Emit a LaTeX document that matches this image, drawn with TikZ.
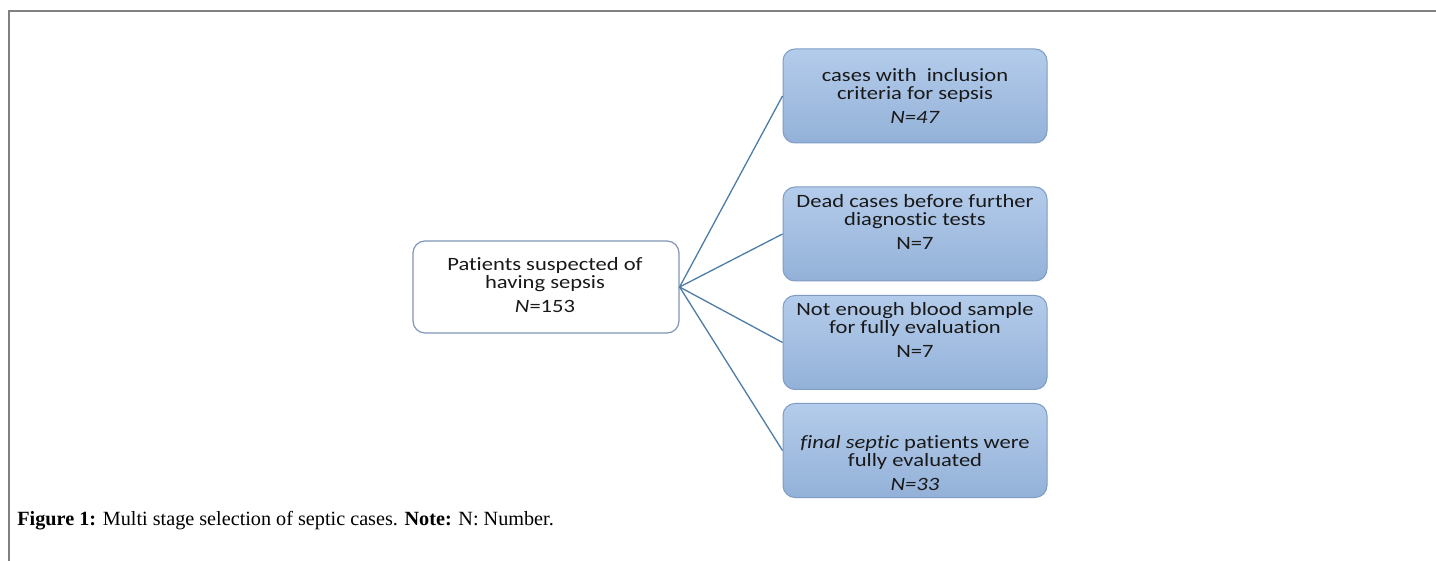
\documentclass[tikz,border=0pt]{standalone}
\usepackage{fontspec}
\setmainfont{Liberation Serif}
\newfontfamily\boxfont[RawFeature=-liga,FakeStretch=1.2]{Carlito}
\definecolor{boxtop}{HTML}{B4CCEB}
\definecolor{boxbot}{HTML}{93B1D8}
\definecolor{boxedge}{HTML}{7F9CC4}
\definecolor{leftedge}{HTML}{7F96B5}
\definecolor{linkcol}{HTML}{4D7DA6}
\definecolor{framecol}{HTML}{808080}
\tikzset{
  every picture/.style={x=0.5pt,y=-0.5pt},
  leftbox/.style={draw=leftedge, line width=0.6pt, fill=white, rounded corners=6pt,
    minimum width=133pt, minimum height=46pt, inner sep=0pt},
  bluebox/.style={draw=boxedge, line width=0.5pt, top color=boxtop, bottom color=boxbot,
    rounded corners=6pt, minimum width=132pt, minimum height=47pt, inner sep=0pt},
  boxtext/.style={font=\boxfont\fontsize{9.4}{9}\selectfont, align=center, inner sep=0pt, text=black!90},
  link/.style={draw=linkcol, line width=0.65pt},
  frameline/.style={draw=framecol, line width=1pt},
}
\begin{document}
\begin{tikzpicture}
\useasboundingbox (0,0) rectangle (1436,561);
\fill[white] (0,0) rectangle (1436,561);
\draw[frameline] (9,561) -- (9,11) -- (1436,11);

\node[leftbox] (src) at (546,287) {};
\node[bluebox] (b1) at (915,96) {};
\node[bluebox] (b2) at (915,234) {};
\node[bluebox] (b3) at (915,342.5) {};
\node[bluebox] (b4) at (915,450.5) {};

\node[boxtext] (t0) at (545,285) {Patients suspected of\\having sepsis\\[3pt]\textit{N}=153};
\node[boxtext] (t1) at (915,96) {cases with\ \ inclusion\\criteria for sepsis\\[3pt]\textit{N=47}};
\node[boxtext] (t2) at (915,222) {Dead cases before further\\diagnostic tests\\[3pt]N=7};
\node[boxtext] (t3) at (915,330) {Not enough blood sample\\for fully evaluation\\[3pt]N=7};
\node[boxtext] (t4) at (915,463) {\textit{final septic} patients were\\fully evaluated\\[3pt]\textit{N=33}};

\coordinate (hub) at (src.east);
\draw[link] (hub) -- (b1.west);
\draw[link] (hub) -- (b2.west);
\draw[link] (hub) -- (b3.west);
\draw[link] (hub) -- (b4.west);

\node[anchor=base west, inner sep=0pt, font=\fontsize{10.1}{11}\selectfont] (cap) at (17,525)
  {\textbf{Figure 1:} Multi stage selection of septic cases. \textbf{Note:} N: Number.};
\end{tikzpicture}
\end{document}
